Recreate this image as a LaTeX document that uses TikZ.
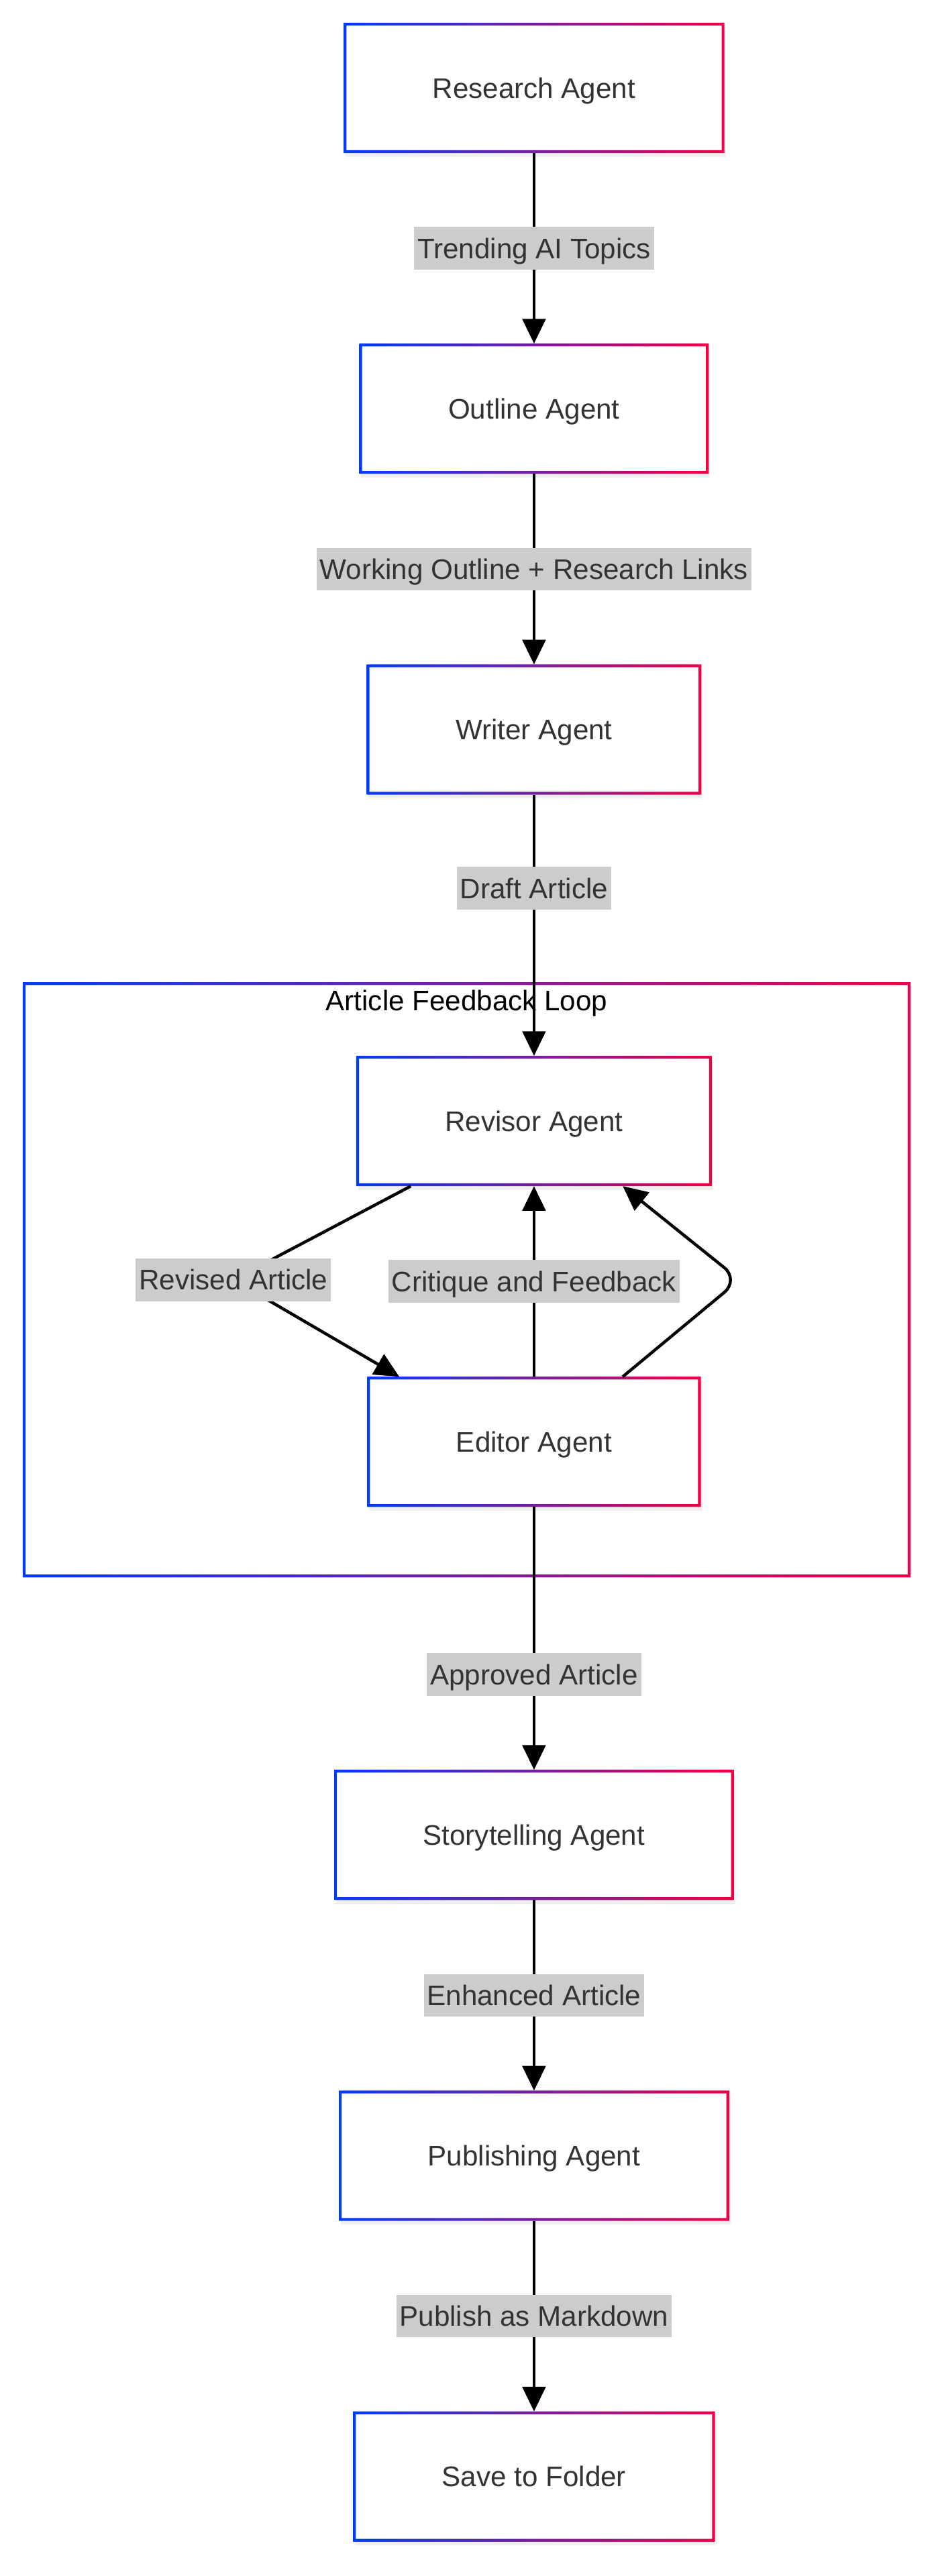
\documentclass[tikz,border=0pt]{standalone}
\usepackage{fontspec}
\setmainfont{Liberation Sans}
\usepackage{xcolor}
\usetikzlibrary{positioning,arrows.meta,shadows}

\definecolor{agentblue}{RGB}{0,60,250}
\definecolor{agentred}{RGB}{240,0,70}
\definecolor{labelgray}{RGB}{204,204,204}
\definecolor{textgray}{RGB}{51,51,51}

\newcommand{\gradframe}[1]{%
  \shade[left color=agentblue, right color=agentred, even odd rule]
    (#1.south west) rectangle (#1.north east)
    ([shift={(0.085,0.085)}]#1.south west) rectangle ([shift={(-0.085,-0.085)}]#1.north east);}

\begin{document}
\begin{tikzpicture}[node distance=5.8cm,
  every node/.style={font=\fontsize{24.5}{29}\selectfont, text=textgray},
  agent/.style={rectangle, fill=white, inner xsep=2.7cm, minimum height=3.95cm,
    text height=17.6pt, text depth=0pt,
    drop shadow={shadow xshift=0.05cm, shadow yshift=-0.12cm, opacity=0.12}},
  lbl/.style={fill=labelgray, inner xsep=0.1cm, inner ysep=0.34cm, text height=17.6pt, text depth=0pt},
  flow/.style={line width=2.6pt, -{Triangle[length=0.75cm, width=0.7cm]}}]
\useasboundingbox (0,0) rectangle (28.6,-78.4);

\node[fill=white, minimum width=27cm, minimum height=18.1cm] (loop) at (14.2,-38.95) {};
\gradframe{loop}
\node[text=black] (looptitle) at ([yshift=-0.65cm]loop.north) {Article Feedback Loop};

\node[agent] (research) at (16.25,-2.675) {Research Agent};
\node[agent, below=of research] (outline) {Outline Agent};
\node[agent, below=of outline] (writer) {Writer Agent};
\node[agent, below=7.95cm of writer] (revisor) {Revisor Agent};
\node[agent, below=of revisor] (editor) {Editor Agent};
\node[agent, below=8cm of editor] (story) {Storytelling Agent};
\node[agent, below=of story] (publish) {Publishing Agent};
\node[agent, below=of publish] (save) {Save to Folder};
\foreach \n in {research,outline,writer,revisor,editor,story,publish,save} {\gradframe{\n}}

\coordinate (revbend) at (7.1,-38.95);
\coordinate (backbend) at (22.5,-38.95);

\draw[flow] (research) -- node[lbl] {Trending AI Topics} (outline);
\draw[flow] (outline) -- node[lbl] {Working Outline + Research Links} (writer);
\draw[flow] (writer) -- node[lbl, pos=0.358] {Draft Article} (revisor);
\draw[flow] ([xshift=-3.75cm]revisor.south) -- (revbend) node[lbl] {Revised Article} -- ([xshift=-4.1cm]editor.north);
\draw[flow] (editor) -- node[lbl] {Critique and Feedback} (revisor);
\draw[flow, rounded corners=0.6cm] ([xshift=2.7cm]editor.north) -- (backbend) -- ([xshift=2.7cm]revisor.south);
\draw[flow] (editor) -- node[lbl, pos=0.6375] {Approved Article} (story);
\draw[flow] (story) -- node[lbl] {Enhanced Article} (publish);
\draw[flow] (publish) -- node[lbl] {Publish as Markdown} (save);
\end{tikzpicture}
\end{document}
